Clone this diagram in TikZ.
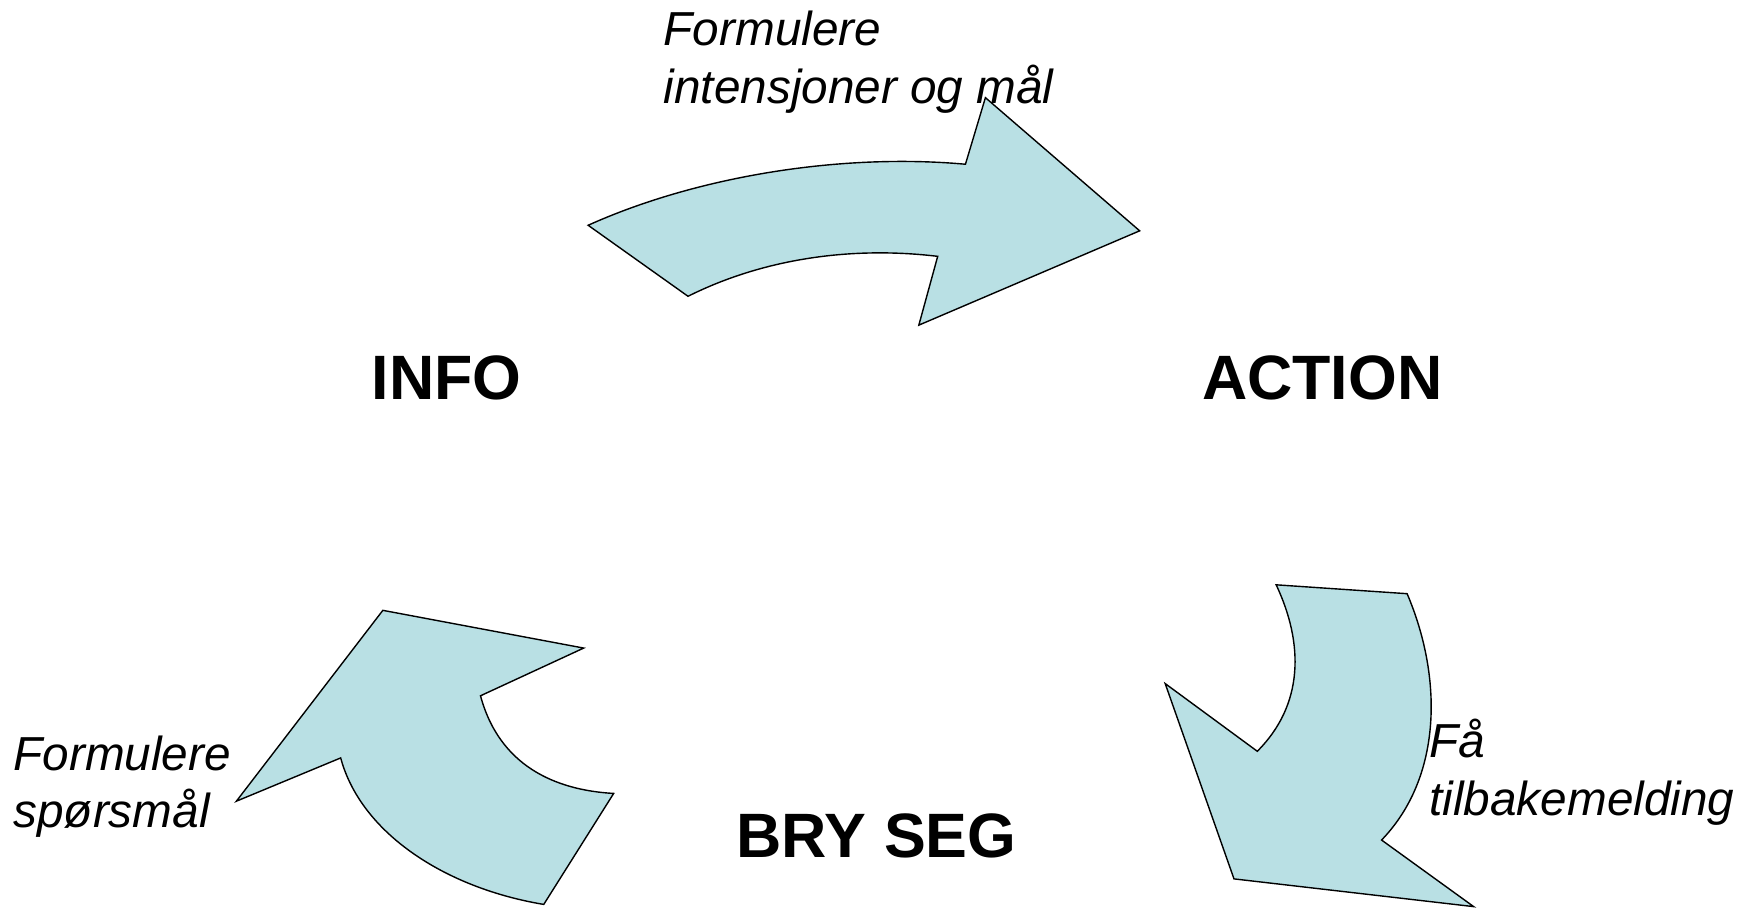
\documentclass[tikz,border=0pt]{standalone}
\usepackage{fontspec}
\setmainfont{Liberation Sans}
\definecolor{arrowfill}{RGB}{185,224,228}
\begin{document}
\begin{tikzpicture}[x=1.1097pt,y=-1.1097pt,
  bigarrow/.style={draw=black,line width=1.4pt,fill=arrowfill,line join=miter},
  stage/.style={font=\fontsize{62.7}{75}\selectfont\bfseries,inner sep=0pt},
  note/.style={font=\fontsize{47.7}{57.7}\selectfont\itshape,inner sep=0pt,align=left}]
\useasboundingbox (0,0) rectangle (1568,818);
% top arrow
\draw[bigarrow] (530,203) -- (620,267) .. controls (690,232) and (770,222) .. (845,231)
  -- (828,293) -- (1027,208) -- (888,88) -- (870,148)
  .. controls (760,138) and (630,158) .. (530,203) -- cycle;
% bottom-right arrow
\draw[bigarrow] (1150,527) -- (1268,535) .. controls (1300,610) and (1300,700) .. (1245,757)
  -- (1328,817) -- (1112,792) -- (1050,616) -- (1133,677)
  .. controls (1175,635) and (1175,580) .. (1150,527) -- cycle;
% bottom-left arrow
\draw[bigarrow] (345,550) -- (526,584) -- (433,627) .. controls (450,690) and (500,712) .. (553,715)
  -- (490,815) .. controls (400,800) and (325,750) .. (307,683) -- (213,722) -- cycle;
% labels
\node[stage,anchor=base] (info) at (402.5,360) {INFO};
\node[stage,anchor=base] (action) at (1191.5,360) {ACTION};
\node[stage,anchor=base] (bryseg) at (790,773) {BRY SEG};
\node[note,anchor=base west] (top) at (598,93) {Formulere\\intensjoner og mål};
\node[note,anchor=base west] (left) at (12,746) {Formulere\\spørsmål};
\node[note,anchor=base west] (right) at (1288,734.5) {Få\\tilbakemelding};
\end{tikzpicture}
\end{document}
